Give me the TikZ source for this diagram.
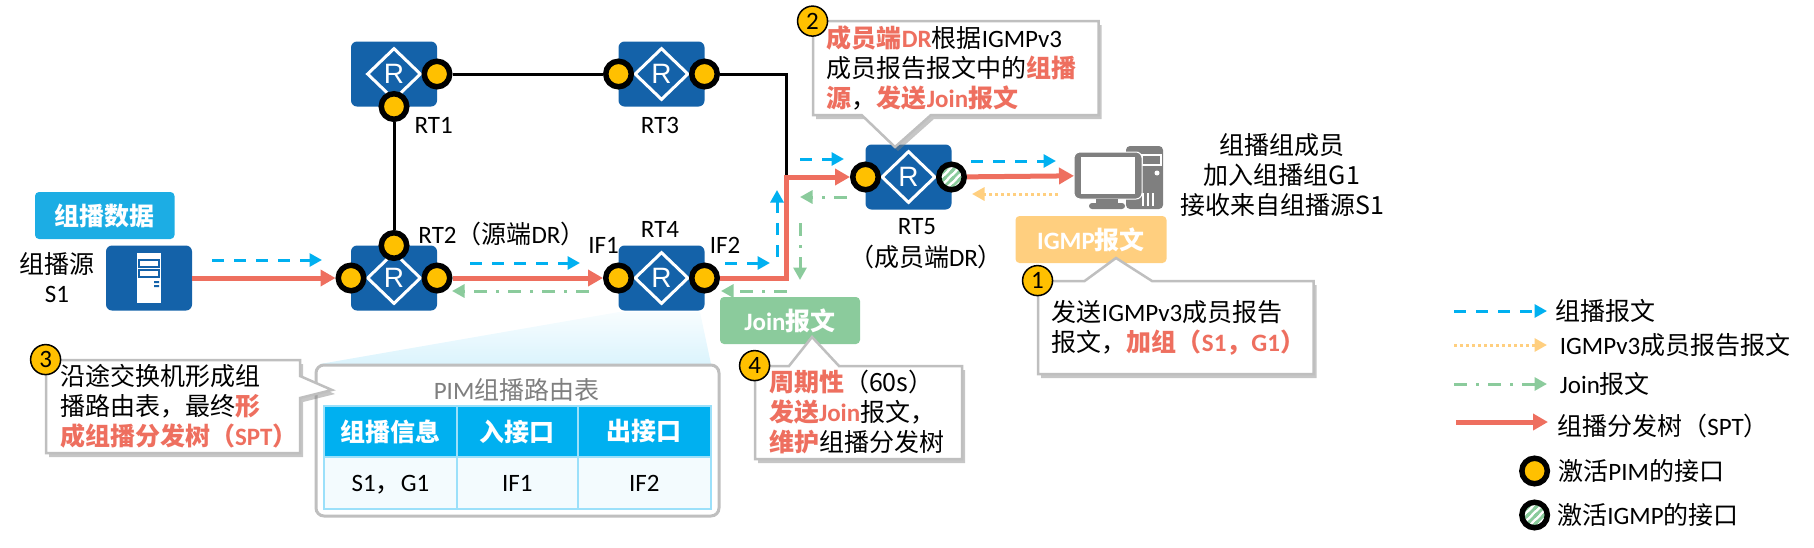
\documentclass[tikz,border=0pt]{standalone}
\usepackage{fontspec}
\setmainfont{Noto Sans CJK SC}
\newfontfamily\calibri{Carlito}
\newfontfamily\arialfont{Liberation Sans}
\usetikzlibrary{arrows.meta,positioning,patterns,shadows,shapes.geometric}
\definecolor{rtblue}{HTML}{1462A9}
\definecolor{portyellow}{HTML}{FFC000}
\definecolor{pktblue}{HTML}{00B0F0}
\definecolor{treered}{HTML}{EE6F5F}
\definecolor{joingreen}{HTML}{8BCB9C}
\definecolor{igmpyellow}{HTML}{FFCF7F}
\definecolor{edgegray}{HTML}{BFBFBF}
\definecolor{pcgray}{HTML}{7F7F7F}
\definecolor{cellblue}{HTML}{9BE0FA}
\definecolor{datablue}{HTML}{1CADE4}
\pgfdeclarepatternformonly{igmpstripes}{\pgfqpoint{-1pt}{-1pt}}{\pgfqpoint{5pt}{5pt}}{\pgfqpoint{4pt}{4pt}}{
    \pgfsetlinewidth{1.4pt}
    \pgfpathmoveto{\pgfqpoint{-1pt}{-1pt}}
    \pgfpathlineto{\pgfqpoint{5pt}{5pt}}
    \pgfpathmoveto{\pgfqpoint{-1pt}{3pt}}
    \pgfpathlineto{\pgfqpoint{1pt}{5pt}}
    \pgfpathmoveto{\pgfqpoint{3pt}{-1pt}}
    \pgfpathlineto{\pgfqpoint{5pt}{1pt}}
    \pgfusepath{stroke}
}
\newcommand{\en}[1]{{\calibri #1}}
\newcommand{\hl}[1]{\textcolor{treered}{\bfseries #1}}
\newcommand{\basefont}{\fontsize{12.5}{15}\selectfont}
\tikzstyle{rtbox}=[rectangle,rounded corners=3pt,fill=rtblue,minimum width=43pt,minimum height=32.5pt,inner sep=0pt,outer sep=0pt]
\tikzstyle{rtmark}=[diamond,draw=white,line width=1.5pt,minimum width=27pt,minimum height=26pt,inner sep=0pt,text=white,font=\arialfont\fontsize{14}{15}\selectfont]
\tikzstyle{pimport}=[circle,draw=black,fill=portyellow,line width=2.75pt,minimum size=12.75pt,inner sep=0pt]
\tikzstyle{igmpport}=[circle,draw=black,line width=2.75pt,minimum size=12.75pt,inner sep=0pt,preaction={fill=white},pattern=igmpstripes,pattern color=joingreen]
\tikzstyle{pktline}=[draw=pktblue,line width=1.5pt,dash pattern=on 6pt off 5pt,-{Triangle[length=6.25pt,width=6.5pt]}]
\tikzstyle{joinline}=[draw=joingreen,line width=1.5pt,dash pattern=on 6.5pt off 4.5pt on 1.5pt off 4.5pt,-{Triangle[length=6.25pt,width=6.5pt]}]
\tikzstyle{igmpline}=[draw=igmpyellow,line width=1.5pt,dash pattern=on 1.5pt off 1.5pt,-{Triangle[length=6.25pt,width=6.5pt]}]
\tikzstyle{treeline}=[draw=treered,line width=2.5pt,-{Triangle[length=7.5pt,width=8pt]}]
\tikzstyle{linkline}=[draw=black,line width=1.5pt]
\tikzstyle{tagbox}=[rectangle,rounded corners=2pt,text=white,font=\basefont\bfseries,minimum height=23.5pt,inner sep=0pt]
\tikzstyle{callshape}=[draw=edgegray,fill=white,line width=1.25pt,drop shadow={shadow xshift=1.5pt,shadow yshift=-2pt,opacity=.45}]
\tikzstyle{calltext}=[rectangle,inner xsep=7pt,inner ysep=0pt,minimum height=46.5pt,align=left]
\tikzstyle{numdot}=[circle,draw=black,fill=portyellow,line width=.75pt,minimum size=15pt,inner sep=0pt,font=\calibri\basefont]
\tikzstyle{thcell}=[rectangle,draw=cellblue,fill=pktblue,line width=1pt,text=white,font=\basefont\bfseries,minimum height=25.5pt,inner sep=0pt,outer sep=0pt]
\tikzstyle{tdcell}=[rectangle,draw=cellblue,fill=cellblue!12,line width=1pt,minimum height=26pt,text height=8pt,text depth=0pt,inner sep=0pt,outer sep=0pt]
\tikzstyle{pcpart}=[rectangle,fill=pcgray,inner sep=0pt,outer sep=0pt]
\begin{document}
\begin{tikzpicture}[x=0.5pt,y=-0.5pt,font=\basefont]
    \useasboundingbox (0,0) rectangle (1814,547);

    \node[rtbox] (RT1) at (394,74)           {};
    \node[rtbox] (RT3) [right of=RT1,node distance=133.75pt] {};
    \node[rtbox] (RT2) at (394,278)          {};
    \node[rtbox] (RT4) [right of=RT2,node distance=133.75pt] {};
    \node[rtbox] (RT5) at (908.5,177)        {};
    \node[rtbox] (srv) [left of=RT2,node distance=122.5pt]   {};

    \foreach \r in {RT1,RT2,RT3,RT4,RT5}
        \node[rtmark] (\r mark) at (\r) {R};

    \fill[white] (137,253) rectangle (161,303);
    \draw[rtblue,line width=1pt,fill=white] (139,260) rectangle (159,267);
    \draw[rtblue,line width=1pt,fill=white] (139,270) rectangle (159,277);
    \fill[rtblue] (154,281) rectangle (159,283) (154,285) rectangle (159,287);

    \node[pcpart,rounded corners=2pt,minimum width=18.5pt,minimum height=31.5pt] (pctower) at (1144.5,177.5) {};
    \draw[white,line width=.75pt] (1142,155) rectangle (1161,165);
    \fill[white] (1157,173) circle (2.5);
    \foreach \x in {1143,1148,1153}
        \draw[white,line width=.75pt] (\x,193) -- (\x,206);
    \node[pcpart,rounded corners=3pt,draw=white,line width=.5pt,minimum width=34pt,minimum height=23.5pt] (pcmon) at (1108,175.5) {};
    \node[rectangle,fill=white,minimum width=27pt,minimum height=18.5pt,inner sep=0pt] (pcscreen) at (1108,175.5) {};
    \node[pcpart,minimum width=11pt,minimum height=2.5pt] (pcneck) at (1107,201) {};
    \node[pcpart,rounded corners=1.5pt,minimum width=18pt,minimum height=3pt] (pcbase) at (1107,206) {};

    \coordinate (turn) at (786,177);

    \node[pimport] (RT1e) at (RT1.east) {};
    \node[pimport] (RT1s) at (RT1.south) {};
    \node[pimport] (RT3w) at (RT3.west) {};
    \node[pimport] (RT3e) at (RT3.east) {};
    \node[pimport] (RT2n) at (RT2.north) {};
    \node[pimport] (RT2w) at (RT2.west) {};
    \node[pimport] (RT2e) at (RT2.east) {};
    \node[pimport] (RT4w) at (RT4.west) {};
    \node[pimport] (RT4e) at (RT4.east) {};
    \node[pimport] (RT5w) at (RT5.west) {};
    \node[igmpport] (RT5e) at (RT5.east) {};

    \draw[linkline] (RT1e) -- (RT3w);
    \draw[linkline] (RT1s) -- (RT2n);
    \draw[linkline] (RT3e) -| (turn);

    \draw[treeline] (srv) -- (RT2w);
    \draw[treeline] (RT2e) -- (RT4w);
    \draw[treeline] (RT4e) -| (turn) -- (RT5w);
    \draw[treeline] (RT5e) -- (pcmon);

    \foreach \n/\sx/\sy/\ex/\ey in {a/212/260/322/260,b/470/263/580/263,c/725/263/770/263,d/777/257/777/190,e/800/159/844/159,f/971/161/1056/161,g/1454/311/1547/311}{
        \coordinate (pkt\n s) at (\sx,\sy);
        \coordinate (pkt\n e) at (\ex,\ey);
        \draw[pktline] (pkt\n s) -- (pkt\n e);
    }
    \foreach \n/\sx/\sy/\ex/\ey in {a/847/197/800/197,b/800/223/800/280,c/787/291/721/291,d/589/291/452/291,e/1454/384/1547/384}{
        \coordinate (join\n s) at (\sx,\sy);
        \coordinate (join\n e) at (\ex,\ey);
        \draw[joinline] (join\n s) -- (join\n e);
    }
    \foreach \n/\sx/\sy/\ex/\ey in {a/1058/194/972/194,b/1454/345/1547/345}{
        \coordinate (igmp\n s) at (\sx,\sy);
        \coordinate (igmp\n e) at (\ex,\ey);
        \draw[igmpline] (igmp\n s) -- (igmp\n e);
    }

    \node[tagbox,fill=datablue,minimum width=69.75pt] (datatag) at (104.75,215.5) {组播数据};
    \node[tagbox,fill=igmpyellow,minimum width=75.5pt] (igmptag) at (1091,239.5) {\en{IGMP}报文};
    \node[tagbox,fill=joingreen,minimum width=70pt] (jointag) at (790,320.5) {\en{Join}报文};

    \node (srcname) at (57,264) {组播源};
    \node (srcid) at (57,294) {\en{S1}};
    \node (RT1name) at (433.6,125) {\en{RT1}};
    \node (RT3name) at (660,125) {\en{RT3}};
    \node (RT2name) at (502,234) {\en{RT2}（源端\en{DR}）};
    \node (RT4name) at (660,229) {\en{RT4}};
    \node (IF1name) at (603.5,245) {\en{IF1}};
    \node (IF2name) at (725,245) {\en{IF2}};
    \node (RT5name) at (917,227) {\en{RT5}};
    \node (RT5role) at (926,257) {（成员端\en{DR}）};
    \node[align=center] (pcname) at (1282,175) {组播组成员\\加入组播组G1\\接收来自组播源S1};

    \shade[top color=pktblue!3,bottom color=pktblue!14] (619,312) -- (700,312) -- (711,364) -- (320,364) -- cycle;
    \node[rectangle,rounded corners=4pt,draw=edgegray,fill=white,line width=1.5pt,minimum width=201.5pt,minimum height=75.5pt,inner sep=0pt] (pimpanel) at (517.5,440.5) {};
    \node[text=pcgray] (pimtitle) at (516.6,390) {\en{PIM}组播路由表};
    \node[thcell,minimum width=66.5pt,anchor=north west] (th1) at (324,406) {组播信息};
    \node[thcell,minimum width=60.3pt] (th2) [right=0pt of th1] {入接口};
    \node[thcell,minimum width=66.7pt] (th3) [right=0pt of th2] {出接口};
    \node[tdcell,minimum width=66.5pt] (td1) [below=0pt of th1] {\en{S1}，\en{G1}};
    \node[tdcell,minimum width=60.3pt] (td2) [below=0pt of th2] {\en{IF1}};
    \node[tdcell,minimum width=66.7pt] (td3) [below=0pt of th3] {\en{IF2}};

    \draw[callshape] (813,21) -- (1098.5,21) -- (1098.5,115) -- (931,115) -- (895,147) -- (861.6,115) -- (813,115) -- cycle;
    \node[calltext,text width=128.75pt] (call2) at (955.7,68)
        {\hl{成员端\en{DR}}根据\en{IGMPv3}\\成员报告报文中的\hl{组播}\\\hl{源}，\hl{发送\en{Join}报文}};
    \draw[callshape] (1038,281) -- (1084.6,281) -- (1116,258) -- (1152,281) -- (1313.5,281) -- (1313.5,374) -- (1038,374) -- cycle;
    \node[calltext,text width=123.75pt] (call1) at (1175.7,327.5)
        {发送\en{IGMPv3}成员报告\\报文，\hl{加组（\en{S1}，\en{G1}）}};
    \draw[callshape] (46,360) -- (300,360) -- (300,376) -- (332,390) -- (300,398) -- (300,453) -- (46,453) -- cycle;
    \node[calltext,text width=113pt] (call3) at (173,406.5)
        {沿途交换机形成组\\播路由表，最终\hl{形}\\\hl{成组播分发树（\en{SPT}）}};
    \draw[callshape] (755,366) -- (789,366) -- (812,337) -- (839,366) -- (962,366) -- (962,459) -- (755,459) -- cycle;
    \node[calltext,text width=89.5pt] (call4) at (858.5,412.5)
        {\hl{周期性}（60s）\\\hl{发送\en{Join}}报文，\\\hl{维护}组播分发树};

    \node[numdot] (num1) at (call1.north west) {1};
    \node[numdot] (num2) at (call2.north west) {2};
    \node[numdot] (num3) at (call3.north west) {3};
    \node[numdot] (num4) at (call4.north west) {4};

    \coordinate (lgts) at (1456,422);
    \coordinate (lgte) at (1548,422);
    \draw[treeline] (lgts) -- (lgte);
    \node[pimport] (lgpim) at (1534.6,471) {};
    \node[igmpport] (lgigmp) at (1534.6,515) {};

    \node[anchor=west,inner sep=0pt] (lgpkt) at (1555,311) {组播报文};
    \node[anchor=west,inner sep=0pt] (lgreport) at (1559.5,345) {\en{IGMPv3}成员报告报文};
    \node[anchor=west,inner sep=0pt] (lgjoin) at (1559.5,384) {\en{Join}报文};
    \node[anchor=west,inner sep=0pt] (lgtree) at (1557,426) {组播分发树（\en{SPT}）};
    \node[anchor=west,inner sep=0pt] (lgpimtxt) at (1558,471) {激活\en{PIM}的接口};
    \node[anchor=west,inner sep=0pt] (lgigmptxt) at (1557,515) {激活\en{IGMP}的接口};

\end{tikzpicture}
\end{document}
